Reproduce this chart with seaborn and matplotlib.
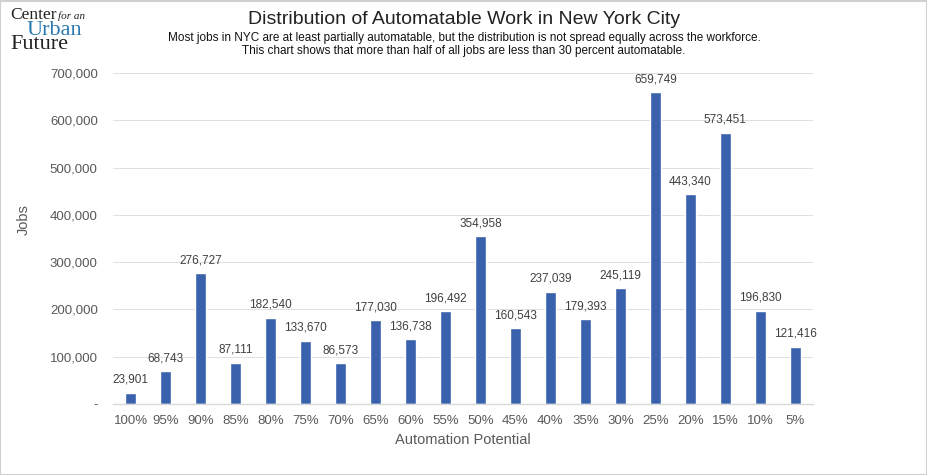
"""Distribution of automatable work in NYC — bar chart."""

import matplotlib

matplotlib.use("Agg")
import matplotlib.pyplot as plt
import matplotlib.ticker as mticker
import pandas as pd
import seaborn as sns

categories = ["100%", "95%", "90%", "85%", "80%", "75%", "70%", "65%", "60%", "55%",
              "50%", "45%", "40%", "35%", "30%", "25%", "20%", "15%", "10%", "5%"]
jobs = [23901, 68743, 276727, 87111, 182540, 133670, 86573, 177030, 136738, 196492,
        354958, 160543, 237039, 179393, 245119, 659749, 443340, 573451, 196830, 121416]
y_ticks = [0, 100000, 200000, 300000, 400000, 500000, 600000, 700000]

df = pd.DataFrame({"potential": categories, "jobs": jobs})

sns.set_theme(style="white")
plt.rcParams["font.family"] = ["Liberation Sans", "DejaVu Sans"]

BAR = "#3A62AC"
GREY = "#595959"

fig = plt.figure(figsize=(9.28, 4.75), dpi=100)
ax = fig.add_axes([0.1218, 0.1495, 0.754, 0.6968])

sns.barplot(data=df, x="potential", y="jobs", color=BAR, width=0.32,
            saturation=1, ax=ax, order=categories)

ax.set_ylim(0, 700000)
ax.set_xlim(-0.5, len(categories) - 0.5)
ax.set_yticks(y_ticks)
ax.yaxis.set_major_formatter(mticker.FuncFormatter(
    lambda v, p: "-" if v == 0 else f"{int(v):,}"))
ax.grid(axis="y", color="#e0e0e0", linewidth=0.7)
ax.set_axisbelow(True)
for s in ["top", "right", "left"]:
    ax.spines[s].set_visible(False)
ax.spines["bottom"].set_color("#d9d9d9")
ax.spines["bottom"].set_linewidth(1.0)
ax.tick_params(axis="both", length=0, labelsize=9.5, labelcolor=GREY)
ax.tick_params(axis="y", pad=11)
ax.tick_params(axis="x", pad=8)

ax.set_xlabel("Automation Potential", fontsize=10.5, color=GREY, labelpad=4)
ax.set_ylabel("")
fig.text(24 / 928, 1 - 220 / 475, "Jobs", rotation=90, fontsize=10.5, color=GREY,
         ha="center", va="center")

for i, v in enumerate(jobs):
    ax.annotate(f"{v:,}", (i, v), xytext=(0, 5), textcoords="offset points",
                ha="center", va="bottom", fontsize=8.5, color="#404040")

fig.text(0.5, 0.958, "Distribution of Automatable Work in New York City",
         ha="center", va="center", fontsize=14, color="#222222")
fig.text(0.5, 0.92, "Most jobs in NYC are at least partially automatable, but the "
         "distribution is not spread equally across the workforce.",
         ha="center", va="center", fontsize=8.5, color="#111111")
fig.text(0.5, 0.893, "This chart shows that more than half of all jobs are less than "
         "30 percent automatable.",
         ha="center", va="center", fontsize=8.5, color="#111111")

# logo
serif = ["Liberation Serif", "DejaVu Serif"]
fig.text(10 / 928, 1 - 19 / 475, "Center", fontsize=12.5, family=serif,
         color="#222222", va="baseline", ha="left")
fig.text(58 / 928, 1 - 19 / 475, "for an", fontsize=8, family=serif,
         style="italic", color="#222222", va="baseline", ha="left")
fig.text(27 / 928, 1 - 35 / 475, "Urban", fontsize=16, family=serif,
         color="#2A7AB0", va="baseline", ha="left")
fig.text(10 / 928, 1 - 49 / 475, "Future", fontsize=16, family=serif,
         color="#222222", va="baseline", ha="left")

fig.patches.append(plt.Rectangle((0.0005, 0.001), 0.998, 0.997, transform=fig.transFigure,
                                 fill=False, edgecolor="#d0d0d0", linewidth=1.5))

fig.savefig("out.png", dpi=100)
